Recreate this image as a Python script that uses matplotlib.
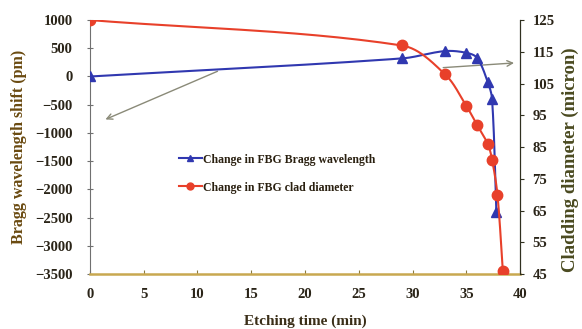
import numpy as np
import matplotlib
matplotlib.use("Agg")
import matplotlib.pyplot as plt
from matplotlib.lines import Line2D

# ---- data ----
t_bragg = [0, 29, 33, 35, 36, 37, 37.4, 37.8]
bragg_shift = [0, 320, 450, 420, 330, -100, -400, -2400]
t_clad = [0, 29, 33, 35, 36, 37, 37.4, 37.9, 38.4]
clad_diam = [125, 117, 108, 98, 92, 86, 81, 70, 46]

x_ticks = [0, 5, 10, 15, 20, 25, 30, 35, 40]
left_ticks = [1000, 500, 0, -500, -1000, -1500, -2000, -2500, -3000, -3500]
right_ticks = [125, 115, 105, 95, 85, 75, 65, 55, 45]

label_bragg = "Change in FBG Bragg wavelength"
label_clad = "Change in FBG clad diameter"

XLIM = (0, 40)
YLIM_L = (-3500, 1000)
YLIM_R = (45, 125)


def smooth(xs, ys, xlim, ylim, aspect=0.59, n=30):
    """Smoothed (Excel-like) rendering of the line through the given points.
    Works in normalised axes space so that x and y units are comparable."""
    u = (np.asarray(xs, float) - xlim[0]) / (xlim[1] - xlim[0])
    v = (np.asarray(ys, float) - ylim[0]) / (ylim[1] - ylim[0]) * aspect
    P = np.column_stack([u, v])
    m = len(P)
    tang = np.zeros_like(P)
    for i in range(m):
        a = P[max(i - 1, 0)]
        b = P[min(i + 1, m - 1)]
        d = b - a
        nd = np.hypot(*d)
        tang[i] = d / nd if nd > 0 else d
    outu, outv = [], []
    for i in range(m - 1):
        p1, p2 = P[i], P[i + 1]
        L = np.hypot(*(p2 - p1))
        c1 = p1 + tang[i] * L / 3
        c2 = p2 - tang[i + 1] * L / 3
        s = np.linspace(0, 1, n)[:, None]
        B = (1 - s) ** 3 * p1 + 3 * (1 - s) ** 2 * s * c1 + 3 * (1 - s) * s ** 2 * c2 + s ** 3 * p2
        outu.extend(B[:, 0])
        outv.extend(B[:, 1])
    outu = np.array(outu)
    outv = np.array(outv)
    x = outu * (xlim[1] - xlim[0]) + xlim[0]
    y = outv / aspect * (ylim[1] - ylim[0]) + ylim[0]
    return x, y


plt.rcParams['font.family'] = ['Liberation Serif', 'DejaVu Serif']
plt.rcParams['font.weight'] = 'bold'

fig = plt.figure(figsize=(5.82, 3.29), dpi=100)
ax = fig.add_axes([0.1546, 0.1672, 0.7389, 0.7718])
ax2 = ax.twinx()

blue = '#3038b0'
red = '#e8402a'

bx, by = smooth(t_bragg, bragg_shift, XLIM, YLIM_L)
ax.plot(bx, by, color=blue, lw=1.5, zorder=3)
ax.plot(t_bragg, bragg_shift, ls='none', marker='^', ms=7, color=blue, zorder=4)

rx, ry = smooth(t_clad, clad_diam, XLIM, YLIM_R)
ax2.plot(rx, ry, color=red, lw=1.5, zorder=3)
ax2.plot(t_clad, clad_diam, ls='none', marker='o', ms=7.5, color=red, zorder=4)

ax.set_xlim(*XLIM)
ax.set_ylim(*YLIM_L)
ax2.set_ylim(*YLIM_R)
ax.set_xticks(x_ticks)
ax.set_yticks(left_ticks)
ax2.set_yticks(right_ticks)

tick_col = '#2a2418'
ax.tick_params(axis='x', direction='in', length=3, colors='#8a7a40', labelcolor=tick_col, labelsize=10.5, pad=10)
ax.tick_params(axis='y', direction='inout', length=5, colors='#707070', labelcolor=tick_col, labelsize=10.5, pad=10)
ax2.tick_params(axis='y', direction='out', length=3, colors='#303020', labelcolor=tick_col, labelsize=10.5, pad=6)

for a in (ax, ax2):
    a.spines['top'].set_visible(False)
ax.spines['left'].set_color('#707070')
ax.spines['bottom'].set_color('#c8a850')
ax.spines['bottom'].set_linewidth(1.8)
ax2.spines['right'].set_color('#303020')
ax2.spines['left'].set_visible(False)
ax2.spines['bottom'].set_visible(False)

ax.set_xlabel('Etching time (min)', fontsize=11, fontweight='bold', color='#3a2e18',
              va='center', ha='center')
ax.xaxis.set_label_coords(0.5, -(321 - 274) / 254)
ax.set_ylabel('Bragg wavelength shift (pm)', fontsize=11.5, fontweight='bold', color='#6a4a10',
              va='center', ha='center')
ax.yaxis.set_label_coords((19 - 90) / 430, 0.5)
ax2.set_ylabel('Cladding diameter (micron)', fontsize=13.5, fontweight='bold', color='#4a4a20',
               rotation=90, va='center', ha='center')
ax2.yaxis.set_label_coords((570 - 90) / 430, (274 - 160) / 254)

arrow_col = '#8a8a78'
ax.annotate('', xy=(1.2, -780), xytext=(12.1, 112),
            arrowprops=dict(arrowstyle='->', color=arrow_col, lw=1.0), zorder=2)
ax.annotate('', xy=(39.7, 243), xytext=(32.6, 154),
            arrowprops=dict(arrowstyle='->', color=arrow_col, lw=1.0), zorder=2)

handles = [Line2D([], [], color=blue, marker='^', ms=5, lw=1.5),
           Line2D([], [], color=red, marker='o', ms=5, lw=1.5)]
leg = fig.legend(handles, [label_bragg, label_clad], loc='upper left',
                 bbox_to_anchor=(168 / 582, 1 - 143 / 329), frameon=False,
                 handlelength=2.0, handletextpad=0.1, labelspacing=1.35,
                 prop={'family': 'Liberation Serif', 'weight': 'bold', 'size': 8.5})
for t in leg.get_texts():
    t.set_color('#2a2010')

fig.savefig('out.png', dpi=100)
